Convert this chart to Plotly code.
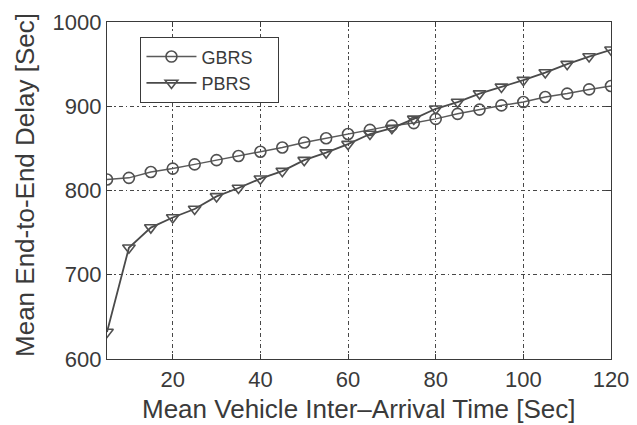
import plotly.graph_objects as go

# Data
inter_arrival = [5, 10, 15, 20, 25, 30, 35, 40, 45, 50, 55, 60,
                 65, 70, 75, 80, 85, 90, 95, 100, 105, 110, 115, 120]
gbrs = [813, 815, 822, 826, 831, 836, 841, 846, 851, 857, 862, 867,
        872, 877, 880, 885, 891, 896, 901, 905, 911, 915, 920, 924]
pbrs = [632, 732, 756, 768, 778, 793, 803, 814, 823, 836, 845, 855,
        867, 874, 885, 897, 905, 915, 923, 931, 940, 950, 959, 967]

x_ticks = [20, 40, 60, 80, 100, 120]
y_ticks = [600, 700, 800, 900, 1000]
series_names = ["GBRS", "PBRS"]

FONT = "Liberation Sans, Arial, sans-serif"
INK = "#3a3a3a"
PAD = "\u00a0" * 4  # widen the legend box like the reference

fig = go.Figure()
fig.add_trace(go.Scatter(
    x=inter_arrival, y=gbrs, name=series_names[0] + PAD, mode="lines+markers",
    line=dict(color="#5a5a5a", width=1.5),
    marker=dict(symbol="circle-open", size=11, color="#505050",
                line=dict(width=1.6, color="#505050")),
))
fig.add_trace(go.Scatter(
    x=inter_arrival, y=pbrs, name=series_names[1] + PAD, mode="lines+markers",
    line=dict(color="#4a4a4a", width=1.8),
    marker=dict(symbol="triangle-down-open", size=11, color="#505050",
                line=dict(width=1.6, color="#505050")),
))

axis_common = dict(
    showline=True, linecolor=INK, linewidth=1.3, mirror="ticks",
    ticks="inside", ticklen=5, tickcolor=INK, tickwidth=1,
    showgrid=True, gridcolor="#484848", gridwidth=1,
    griddash="4px,3px,1.5px,3px",
    zeroline=False, automargin=False,
    tickfont=dict(family=FONT, size=22, color=INK),
)

fig.update_xaxes(range=[5, 120], tickvals=x_ticks, **axis_common)
fig.update_yaxes(range=[600, 1000], tickvals=y_ticks, **axis_common)

# The page body has an 8px margin, so the figure is sized/offset accordingly
fig.update_layout(
    width=629, height=417,
    margin=dict(l=99, r=26, t=14, b=66, autoexpand=False),
    paper_bgcolor="white", plot_bgcolor="white",
    showlegend=True,
    legend=dict(
        x=0.066, y=0.955, xanchor="left", yanchor="top",
        bgcolor="white", bordercolor=INK, borderwidth=1.2,
        font=dict(family=FONT, size=18, color=INK),
        itemwidth=50, tracegroupgap=0,
    ),
    annotations=[
        dict(text="Mean Vehicle Inter\u2013Arrival Time [Sec]",
             xref="paper", yref="paper", x=0.5, y=-0.148,
             xanchor="center", yanchor="middle", showarrow=False,
             font=dict(family=FONT, size=26, color=INK)),
        dict(text="Mean End-to-End Delay [Sec]",
             xref="paper", yref="paper", x=-0.163, y=0.516,
             xanchor="center", yanchor="middle", textangle=-90,
             showarrow=False,
             font=dict(family=FONT, size=26, color=INK)),
    ],
)

fig.write_html(
    "out.html",
    post_script="document.documentElement.style.overflow='hidden';"
                "document.body.style.overflow='hidden';",
)
